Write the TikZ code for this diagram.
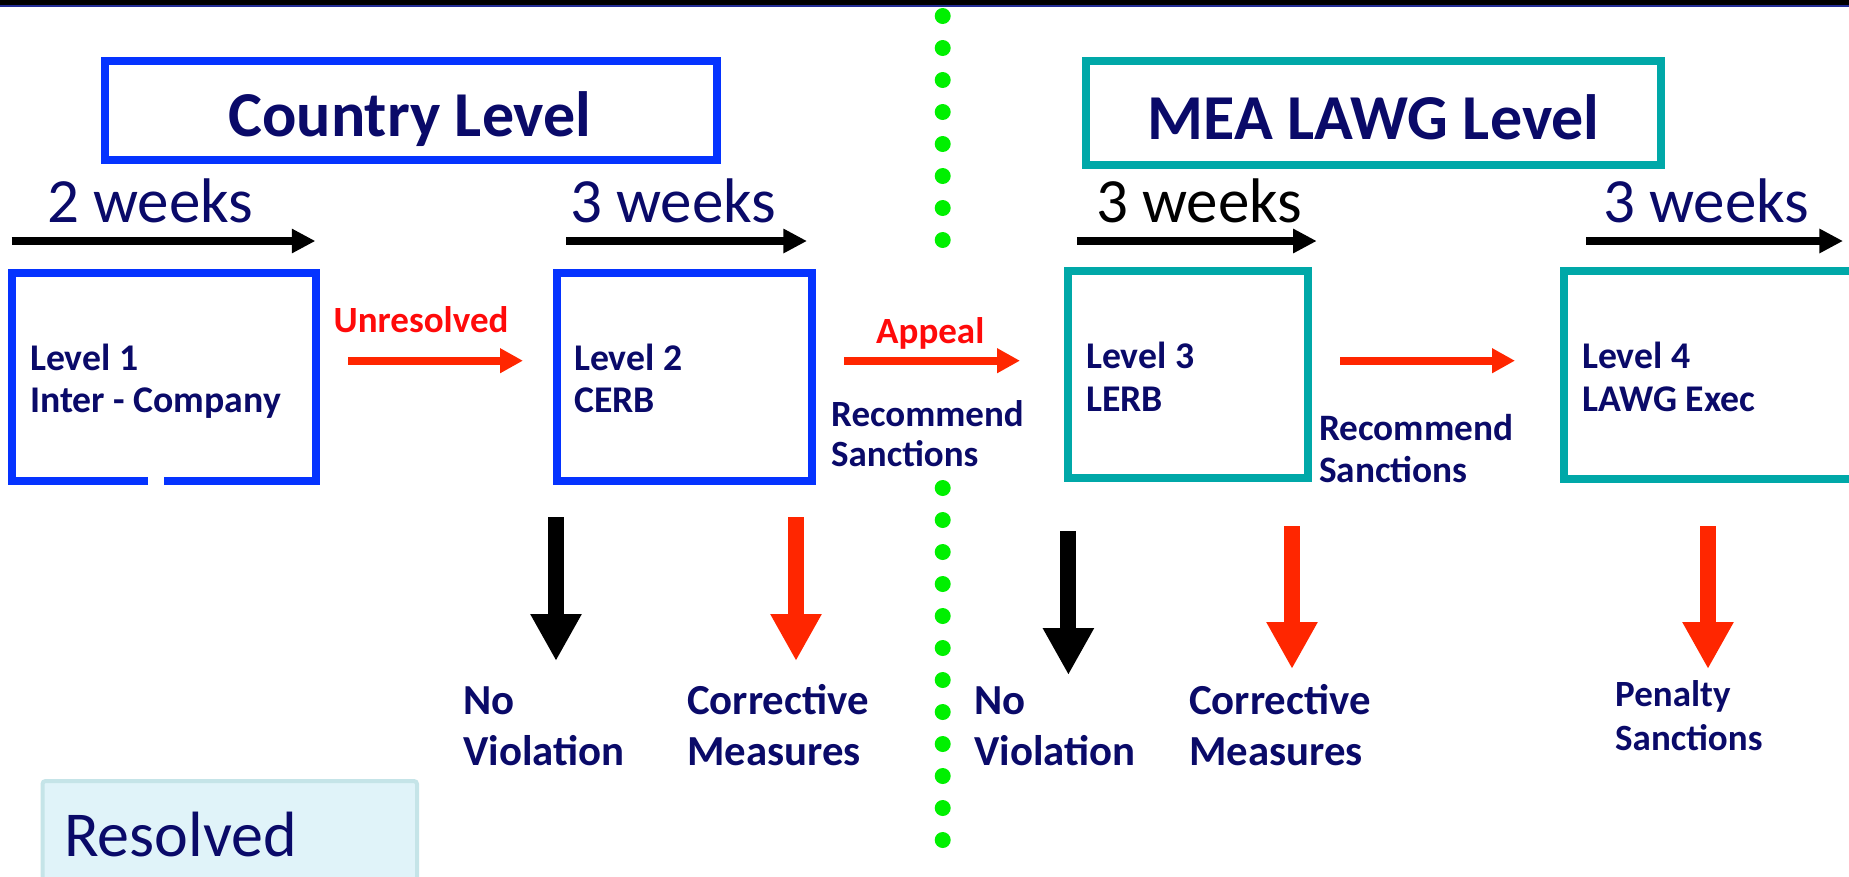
\documentclass[tikz,border=0pt]{standalone}
\usepackage{fontspec}
\setmainfont{Carlito}
\usetikzlibrary{arrows.meta,calc}
\definecolor{navy}{RGB}{10,10,105}
\definecolor{bblue}{RGB}{5,51,255}
\definecolor{tealb}{RGB}{0,168,168}
\definecolor{ared}{RGB}{255,38,0}
\definecolor{tred}{RGB}{255,10,10}
\definecolor{gdot}{RGB}{0,240,0}
\definecolor{ybar}{RGB}{248,203,69}
\definecolor{nbar}{RGB}{35,45,150}
\definecolor{rfill}{RGB}{224,243,249}
\definecolor{rdraw}{RGB}{197,228,232}
\newcommand\fsz[2]{\fontsize{#1}{#2}\selectfont}
\newcommand\twoln[2]{\begin{tabular}[t]{@{}l@{}}#1\\#2\end{tabular}}
\begin{document}
\begin{tikzpicture}[x=1pt,y=-1pt,
  titlebox/.style={rectangle,line width=8pt,inner sep=0pt,outer sep=0pt},
  titletxt/.style={inner sep=0pt,anchor=base,text=navy,font=\bfseries\fsz{64}{70}},
  wktxt/.style={inner sep=0pt,anchor=base west,text=navy,font=\fsz{63}{70}},
  wkarrow/.style={line width=8.3pt,black,-{Triangle[length=23.6pt,width=23pt]}},
  lvbox/.style={rectangle,line width=8pt,inner sep=0pt,outer sep=0pt},
  lvtxt/.style={inner sep=0pt,anchor=base west,text=navy,font=\bfseries\fsz{37.7}{42.7}},
  redtxt/.style={inner sep=0pt,anchor=base west,text=tred,font=\bfseries\fsz{37}{43}},
  harrow/.style={line width=8.3pt,ared,-{Triangle[length=23pt,width=23.5pt]}},
  varrow/.style={line width=16pt,-{Triangle[length=47pt,width=48pt]}},
  outtxt/.style={inner sep=0pt,anchor=base west,text=navy,font=\bfseries\fsz{42.8}{50.7}},
  rbox/.style={rectangle,draw=rdraw,fill=rfill,line width=4pt,rounded corners=3pt,inner sep=0pt,outer sep=0pt},
  rtxt/.style={inner sep=0pt,anchor=base west,text=navy,font=\fsz{64}{70}}
]
\useasboundingbox (0,0) rectangle (1849,876);
\clip (0,0) rectangle (1849,876);
\fill[white] (0,0) rectangle (1849,876);
% top band
\fill[ybar] (0,0) rectangle (1849,4.8);
\fill[nbar] (0,4.8) rectangle (1849,6.7);
% green dotted divider
\foreach \k in {0,...,7} \fill[gdot] (942.7,{16+32*\k}) circle[radius=8];
\foreach \k in {0,...,11} \fill[gdot] (942.7,{488+32*\k}) circle[radius=8];

% title boxes
\node[titlebox,draw=bblue,minimum width=612pt,minimum height=99pt] (cl) at (411,110.5) {};
\node[titletxt] (clt) at (410,136.7) {Country Level};
\node[titlebox,draw=tealb,minimum width=575pt,minimum height=104pt] (ml) at (1373.5,113) {};
\node[titletxt] (mlt) at (1373.6,139) {MEA LAWG Level};

% week timelines
\node[wktxt] (wk1) at (47,222.7) {2 weeks};
\node[wktxt] (wk2) at (570,222.7) {3 weeks};
\node[wktxt,text=black] (wk3) at (1096,222.7) {3 weeks};
\node[wktxt] (wk4) at (1603,222.7) {3 weeks};
\coordinate (w1s) at (11.5,241); \coordinate (w1e) at (315.4,241);
\coordinate (w2s) at (566.4,241); \coordinate (w2e) at (807,241);
\coordinate (w3s) at (1076.9,241); \coordinate (w3e) at (1316.7,241);
\coordinate (w4s) at (1586.4,241); \coordinate (w4e) at (1843,241);
\draw[wkarrow] (w1s) -- (w1e);
\draw[wkarrow] (w2s) -- (w2e);
\draw[wkarrow] (w3s) -- (w3e);
\draw[wkarrow] (w4s) -- (w4e);

% level boxes
\node[lvbox,minimum width=304pt,minimum height=208pt] (b1) at (164,377) {};
\draw[line width=8pt,bblue] ($(b1.south west)+(136,0)$) -- (b1.south west) -- (b1.north west) -- (b1.north east) -- (b1.south east) -- ($(b1.south west)+(152,0)$);
\node[lvbox,draw=bblue,minimum width=255pt,minimum height=208pt] (b2) at (684,377) {};
\node[lvbox,draw=tealb,minimum width=239.5pt,minimum height=207pt] (b3) at (1187.75,374.5) {};
\node[lvbox,draw=tealb,minimum width=296pt,minimum height=207.7pt] (b4) at (1712.4,374.85) {};

\node[lvtxt] (t1) at (30,370) {\twoln{Level 1}{Inter - Company}};
\node[lvtxt] (t2) at (574,370) {\twoln{Level 2}{CERB}};
\node[lvtxt] (t3) at (1086,368.3) {\twoln{Level 3}{LERB}};
\node[lvtxt] (t4) at (1582,368.3) {\twoln{Level 4}{LAWG Exec}};

% horizontal connectors
\coordinate (h1) at ($(b1.east)+(0,-16.3)$);
\coordinate (h2) at ($(b2.east)+(0,-16.3)$);
\coordinate (h3) at ($(b3.east)+(0,-13.8)$);
\draw[harrow,shorten <=32pt,shorten >=33.5pt] (h1) -- (h1 -| b2.west);
\draw[harrow,shorten <=32.5pt,shorten >=48pt] (h2) -- (h2 -| b3.west);
\draw[harrow,shorten <=32.5pt,shorten >=49.4pt] (h3) -- (h3 -| b4.west);

\node[redtxt] (unres) at (333.5,332.7) {Unresolved};
\node[redtxt] (appeal) at (876,343.3) {Appeal};
\node[lvtxt,font=\bfseries\fsz{37}{40.7}] (rs1) at (831,426) {\twoln{Recommend}{Sanctions}};
\node[lvtxt,font=\bfseries\fsz{37.3}{42.3}] (rs2) at (1319,440) {\twoln{Recommend}{Sanctions}};

% vertical outcome arrows
\coordinate (v1s) at (556,517); \coordinate (v1e) at (556,661);
\coordinate (v2s) at (796,517); \coordinate (v2e) at (796,661);
\coordinate (v3s) at (1068.4,531); \coordinate (v3e) at (1068.4,675);
\coordinate (v4s) at (1292,526); \coordinate (v4e) at (1292,669);
\coordinate (v5s) at (1708,526); \coordinate (v5e) at (1708,669);
\draw[varrow,black] (v1s) -- (v1e);
\draw[varrow,ared] (v2s) -- (v2e);
\draw[varrow,black] (v3s) -- (v3e);
\draw[varrow,ared] (v4s) -- (v4e);
\draw[varrow,ared] (v5s) -- (v5e);

\node[outtxt] (nv1) at (463,714.3) {\twoln{No}{Violation}};
\node[outtxt] (cm1) at (687,714.3) {\twoln{Corrective}{Measures}};
\node[outtxt] (nv2) at (974,714.3) {\twoln{No}{Violation}};
\node[outtxt] (cm2) at (1189,714.3) {\twoln{Corrective}{Measures}};
\node[lvtxt,font=\bfseries\fsz{37}{43.3}] (ps) at (1615,706.7) {\twoln{Penalty}{Sanctions}};

% resolved box
\node[rbox,minimum width=374.5pt,minimum height=130pt,anchor=north west] (rb) at (42.5,781) {};
\node[rtxt] (rt) at (64,856) {Resolved};
\end{tikzpicture}
\end{document}
